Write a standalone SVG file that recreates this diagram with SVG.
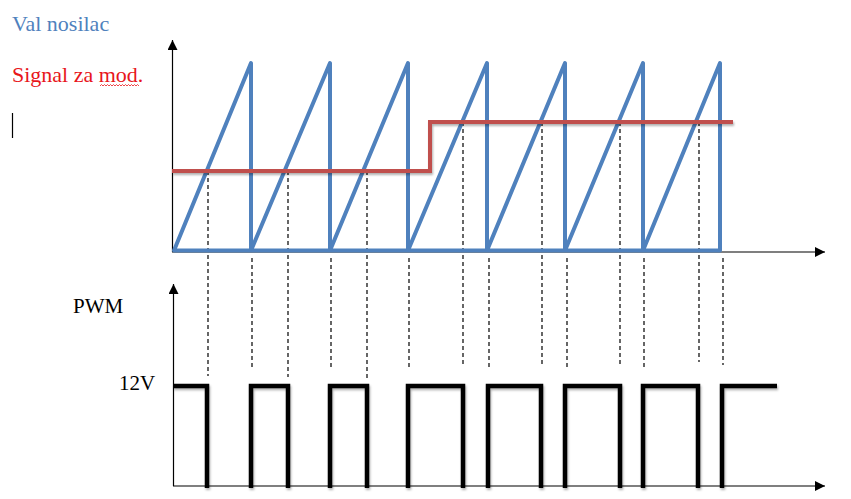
<svg xmlns="http://www.w3.org/2000/svg" width="851" height="499" viewBox="0 0 851 499">
<defs>
  <marker id="arr" viewBox="0 0 10 10" refX="10" refY="5" markerWidth="10" markerHeight="10" markerUnits="userSpaceOnUse" orient="auto">
    <path d="M0,0 L10,5 L0,10 Z" fill="#000"/>
  </marker>
  <filter id="sh" x="-5%" y="-20%" width="110%" height="140%">
    <feDropShadow dx="1" dy="2" stdDeviation="1.2" flood-color="#000" flood-opacity="0.3"/>
  </filter>
</defs>
<style>
  .axis{stroke:#000;stroke-width:1.2;fill:none}
  .carrier{stroke:#4F81BD;stroke-width:4;fill:none;stroke-linejoin:round}
  .mod{stroke:#C0504D;stroke-width:4;fill:none}
  .dash{stroke:#000;stroke-width:1.2;stroke-dasharray:4 3;fill:none}
  .pwm{stroke:#000;stroke-width:4.5;fill:none;stroke-linejoin:miter}
</style>
<rect width="851" height="499" fill="#fff"/>

<g id="labels" font-family="'Liberation Serif', 'Times New Roman', serif">
  <text x="12" y="31" fill="#4F81BD" font-size="22">Val nosilac</text>
  <text x="12" y="82" fill="#E8161B" font-size="22">Signal za mod.</text>
  <path d="M100,86 l1.5,-1.5 l1.5,1.5 l1.5,-1.5 l1.5,1.5 l1.5,-1.5 l1.5,1.5 l1.5,-1.5 l1.5,1.5 l1.5,-1.5 l1.5,1.5 l1.5,-1.5 l1.5,1.5 l1.5,-1.5 l1.5,1.5 l1.5,-1.5 l1.5,1.5 l1.5,-1.5 l1.5,1.5 l1.5,-1.5 l1.5,1.5 l1.5,-1.5 l1.5,1.5 l1.5,-1.5 l1.5,1.5 l1.5,-1.5 l1.5,1.5" stroke="#E8161B" stroke-width="0.8" fill="none"/>
  <line x1="12.5" y1="113" x2="12.5" y2="138" stroke="#000" stroke-width="1.2"/>
  <text x="73" y="313" fill="#000" font-size="21">PWM</text>
  <text x="119" y="390" fill="#000" font-size="21">12V</text>
</g>

<g id="axes">
  <line class="axis" x1="172.5" y1="252" x2="172.5" y2="40" marker-end="url(#arr)"/>
  <line class="axis" x1="172" y1="252" x2="825" y2="252" marker-end="url(#arr)"/>
  <line class="axis" x1="173.5" y1="486" x2="173.5" y2="284" marker-end="url(#arr)"/>
  <line class="axis" x1="173" y1="486" x2="825" y2="486" marker-end="url(#arr)"/>
</g>

<g id="dashes">
  <line class="dash" x1="208" y1="171" x2="208" y2="376"/>
  <line class="dash" x1="288" y1="171" x2="288" y2="377"/>
  <line class="dash" x1="367" y1="171" x2="367" y2="378"/>
  <line class="dash" x1="463" y1="122" x2="463" y2="366"/>
  <line class="dash" x1="542" y1="122" x2="542" y2="366"/>
  <line class="dash" x1="620" y1="122" x2="620" y2="364"/>
  <line class="dash" x1="699" y1="122" x2="699" y2="362"/>
  <line class="dash" x1="252" y1="258" x2="252" y2="368"/>
  <line class="dash" x1="331" y1="258" x2="331" y2="367"/>
  <line class="dash" x1="409" y1="258" x2="409" y2="368"/>
  <line class="dash" x1="489" y1="258" x2="489" y2="368"/>
  <line class="dash" x1="567" y1="258" x2="567" y2="369"/>
  <line class="dash" x1="644" y1="258" x2="644" y2="367"/>
  <line class="dash" x1="723" y1="258" x2="723" y2="365"/>
</g>

<g id="carrier">
  <path class="carrier" d="M174,250.5 L251,63 L251,250.5 L330,63 L330,250.5 L408,63 L408,250.5 L487,63 L487,250.5 L565,63 L565,250.5 L643,63 L643,250.5 L720,63 L720,250.5 Z"/>
</g>

<g id="modulating">
  <path class="mod" filter="url(#sh)" d="M172,171 H430 V122 H733"/>
</g>

<g id="pwm">
  <path class="pwm" filter="url(#sh)" d="M173,386 H207 V488 M251,488 V386 H288 V488 M330,488 V386 H367 V488 M408,488 V386 H463 V488 M488,488 V386 H541 V488 M565,488 V386 H620 V488 M643,488 V386 H698 V488 M722,488 V386 H777"/>
</g>
</svg>
